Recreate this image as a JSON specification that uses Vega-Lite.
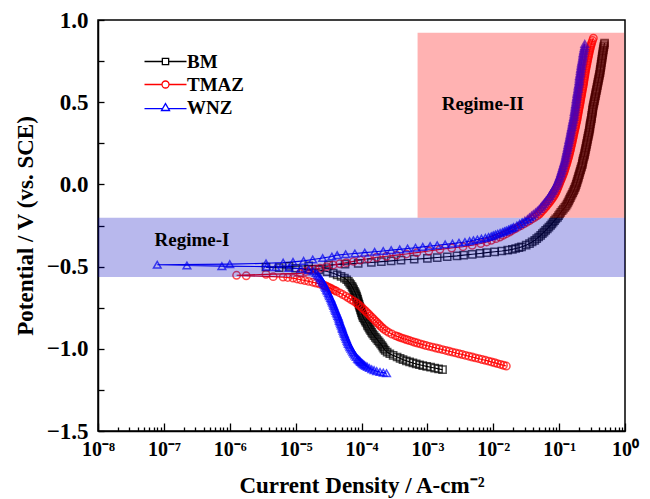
{
"$schema":"https://vega.github.io/schema/vega-lite/v6.json",
"autosize":"none",
"width":527,"height":411,
"padding":{"left":98,"top":20,"right":25,"bottom":68},
"background":"white",
"datasets":{"curves":[
{"s":"BM","J":1.70e-3,"E":-1.127},{"s":"BM","J":1.48e-3,"E":-1.122},{"s":"BM","J":1.29e-3,"E":-1.117},{"s":"BM","J":1.12e-3,"E":-1.112},{"s":"BM","J":9.77e-4,"E":-1.107},{"s":"BM","J":8.51e-4,"E":-1.102},{"s":"BM","J":7.59e-4,"E":-1.097},{"s":"BM","J":6.76e-4,"E":-1.092},{"s":"BM","J":6.03e-4,"E":-1.086},{"s":"BM","J":5.37e-4,"E":-1.080},{"s":"BM","J":4.79e-4,"E":-1.073},{"s":"BM","J":4.27e-4,"E":-1.066},{"s":"BM","J":3.85e-4,"E":-1.058},{"s":"BM","J":3.47e-4,"E":-1.050},{"s":"BM","J":3.02e-4,"E":-1.040},{"s":"BM","J":2.69e-4,"E":-1.030},{"s":"BM","J":2.45e-4,"E":-1.020},{"s":"BM","J":2.29e-4,"E":-1.010},{"s":"BM","J":2.19e-4,"E":-1.000},{"s":"BM","J":2.11e-4,"E":-0.990},{"s":"BM","J":2.04e-4,"E":-0.980},{"s":"BM","J":1.95e-4,"E":-0.970},{"s":"BM","J":1.86e-4,"E":-0.960},{"s":"BM","J":1.78e-4,"E":-0.950},{"s":"BM","J":1.70e-4,"E":-0.940},{"s":"BM","J":1.62e-4,"E":-0.930},{"s":"BM","J":1.55e-4,"E":-0.920},{"s":"BM","J":1.48e-4,"E":-0.910},{"s":"BM","J":1.43e-4,"E":-0.900},{"s":"BM","J":1.38e-4,"E":-0.890},{"s":"BM","J":1.33e-4,"E":-0.880},{"s":"BM","J":1.29e-4,"E":-0.870},{"s":"BM","J":1.24e-4,"E":-0.860},{"s":"BM","J":1.22e-4,"E":-0.850},{"s":"BM","J":1.17e-4,"E":-0.840},{"s":"BM","J":1.14e-4,"E":-0.830},{"s":"BM","J":1.10e-4,"E":-0.820},{"s":"BM","J":1.06e-4,"E":-0.810},{"s":"BM","J":1.04e-4,"E":-0.800},{"s":"BM","J":1.02e-4,"E":-0.790},{"s":"BM","J":1.00e-4,"E":-0.780},{"s":"BM","J":9.83e-5,"E":-0.770},{"s":"BM","J":9.66e-5,"E":-0.760},{"s":"BM","J":9.50e-5,"E":-0.750},{"s":"BM","J":9.33e-5,"E":-0.740},{"s":"BM","J":9.17e-5,"E":-0.730},{"s":"BM","J":9.02e-5,"E":-0.720},{"s":"BM","J":8.86e-5,"E":-0.710},{"s":"BM","J":8.71e-5,"E":-0.700},{"s":"BM","J":8.56e-5,"E":-0.690},{"s":"BM","J":8.41e-5,"E":-0.680},{"s":"BM","J":8.22e-5,"E":-0.670},{"s":"BM","J":8.04e-5,"E":-0.660},{"s":"BM","J":7.81e-5,"E":-0.650},{"s":"BM","J":7.59e-5,"E":-0.640},{"s":"BM","J":7.37e-5,"E":-0.630},{"s":"BM","J":7.16e-5,"E":-0.620},{"s":"BM","J":6.88e-5,"E":-0.610},{"s":"BM","J":6.61e-5,"E":-0.600},{"s":"BM","J":6.31e-5,"E":-0.590},{"s":"BM","J":5.96e-5,"E":-0.580},{"s":"BM","J":5.50e-5,"E":-0.570},{"s":"BM","J":4.90e-5,"E":-0.560},{"s":"BM","J":4.27e-5,"E":-0.550},{"s":"BM","J":3.72e-5,"E":-0.540},{"s":"BM","J":3.02e-5,"E":-0.530},{"s":"BM","J":2.24e-5,"E":-0.520},{"s":"BM","J":1.58e-5,"E":-0.515},{"s":"BM","J":1.00e-5,"E":-0.510},{"s":"BM","J":5.62e-6,"E":-0.506},{"s":"BM","J":3.55e-6,"E":-0.503},{"s":"BM","J":7.94e-6,"E":-0.499},{"s":"BM","J":1.58e-5,"E":-0.495},{"s":"BM","J":3.16e-5,"E":-0.490},{"s":"BM","J":5.62e-5,"E":-0.485},{"s":"BM","J":8.91e-5,"E":-0.480},{"s":"BM","J":1.41e-4,"E":-0.475},{"s":"BM","J":2.00e-4,"E":-0.470},{"s":"BM","J":2.82e-4,"E":-0.465},{"s":"BM","J":3.98e-4,"E":-0.460},{"s":"BM","J":6.31e-4,"E":-0.455},{"s":"BM","J":1.00e-3,"E":-0.450},{"s":"BM","J":1.41e-3,"E":-0.445},{"s":"BM","J":2.00e-3,"E":-0.440},{"s":"BM","J":2.82e-3,"E":-0.435},{"s":"BM","J":3.55e-3,"E":-0.430},{"s":"BM","J":4.79e-3,"E":-0.425},{"s":"BM","J":6.31e-3,"E":-0.420},{"s":"BM","J":7.94e-3,"E":-0.415},{"s":"BM","J":1.05e-2,"E":-0.410},{"s":"BM","J":1.35e-2,"E":-0.405},{"s":"BM","J":1.66e-2,"E":-0.400},{"s":"BM","J":1.95e-2,"E":-0.395},{"s":"BM","J":2.19e-2,"E":-0.390},{"s":"BM","J":2.45e-2,"E":-0.385},{"s":"BM","J":2.69e-2,"E":-0.380},{"s":"BM","J":3.16e-2,"E":-0.370},{"s":"BM","J":3.55e-2,"E":-0.360},{"s":"BM","J":3.89e-2,"E":-0.350},{"s":"BM","J":4.27e-2,"E":-0.340},{"s":"BM","J":4.57e-2,"E":-0.330},{"s":"BM","J":4.90e-2,"E":-0.320},{"s":"BM","J":5.25e-2,"E":-0.310},{"s":"BM","J":5.56e-2,"E":-0.300},{"s":"BM","J":5.89e-2,"E":-0.290},{"s":"BM","J":6.24e-2,"E":-0.280},{"s":"BM","J":6.61e-2,"E":-0.270},{"s":"BM","J":7.00e-2,"E":-0.260},{"s":"BM","J":7.41e-2,"E":-0.250},{"s":"BM","J":7.76e-2,"E":-0.240},{"s":"BM","J":8.13e-2,"E":-0.230},{"s":"BM","J":8.51e-2,"E":-0.220},{"s":"BM","J":8.91e-2,"E":-0.210},{"s":"BM","J":9.44e-2,"E":-0.200},{"s":"BM","J":9.80e-2,"E":-0.190},{"s":"BM","J":1.02e-1,"E":-0.180},{"s":"BM","J":1.06e-1,"E":-0.170},{"s":"BM","J":1.11e-1,"E":-0.160},{"s":"BM","J":1.16e-1,"E":-0.150},{"s":"BM","J":1.22e-1,"E":-0.140},{"s":"BM","J":1.27e-1,"E":-0.130},{"s":"BM","J":1.32e-1,"E":-0.120},{"s":"BM","J":1.36e-1,"E":-0.110},{"s":"BM","J":1.40e-1,"E":-0.100},{"s":"BM","J":1.44e-1,"E":-0.090},{"s":"BM","J":1.48e-1,"E":-0.080},{"s":"BM","J":1.52e-1,"E":-0.070},{"s":"BM","J":1.57e-1,"E":-0.060},{"s":"BM","J":1.61e-1,"E":-0.050},{"s":"BM","J":1.66e-1,"E":-0.040},{"s":"BM","J":1.70e-1,"E":-0.030},{"s":"BM","J":1.74e-1,"E":-0.020},{"s":"BM","J":1.78e-1,"E":-0.010},{"s":"BM","J":1.82e-1,"E":0.00},{"s":"BM","J":1.85e-1,"E":0.01},{"s":"BM","J":1.88e-1,"E":0.02},{"s":"BM","J":1.92e-1,"E":0.03},{"s":"BM","J":1.95e-1,"E":0.04},{"s":"BM","J":1.98e-1,"E":0.05},{"s":"BM","J":2.02e-1,"E":0.06},{"s":"BM","J":2.05e-1,"E":0.07},{"s":"BM","J":2.09e-1,"E":0.08},{"s":"BM","J":2.12e-1,"E":0.09},{"s":"BM","J":2.16e-1,"E":0.10},{"s":"BM","J":2.20e-1,"E":0.11},{"s":"BM","J":2.24e-1,"E":0.12},{"s":"BM","J":2.26e-1,"E":0.13},{"s":"BM","J":2.29e-1,"E":0.14},{"s":"BM","J":2.31e-1,"E":0.15},{"s":"BM","J":2.34e-1,"E":0.16},{"s":"BM","J":2.39e-1,"E":0.17},{"s":"BM","J":2.43e-1,"E":0.18},{"s":"BM","J":2.45e-1,"E":0.19},{"s":"BM","J":2.48e-1,"E":0.20},{"s":"BM","J":2.51e-1,"E":0.21},{"s":"BM","J":2.54e-1,"E":0.22},{"s":"BM","J":2.57e-1,"E":0.23},{"s":"BM","J":2.60e-1,"E":0.24},{"s":"BM","J":2.63e-1,"E":0.25},{"s":"BM","J":2.66e-1,"E":0.26},{"s":"BM","J":2.69e-1,"E":0.27},{"s":"BM","J":2.72e-1,"E":0.28},{"s":"BM","J":2.75e-1,"E":0.29},{"s":"BM","J":2.79e-1,"E":0.30},{"s":"BM","J":2.82e-1,"E":0.31},{"s":"BM","J":2.85e-1,"E":0.32},{"s":"BM","J":2.88e-1,"E":0.33},{"s":"BM","J":2.92e-1,"E":0.34},{"s":"BM","J":2.93e-1,"E":0.35},{"s":"BM","J":2.95e-1,"E":0.36},{"s":"BM","J":2.98e-1,"E":0.37},{"s":"BM","J":3.02e-1,"E":0.38},{"s":"BM","J":3.05e-1,"E":0.39},{"s":"BM","J":3.09e-1,"E":0.40},{"s":"BM","J":3.11e-1,"E":0.41},{"s":"BM","J":3.13e-1,"E":0.42},{"s":"BM","J":3.16e-1,"E":0.43},{"s":"BM","J":3.20e-1,"E":0.44},{"s":"BM","J":3.22e-1,"E":0.45},{"s":"BM","J":3.24e-1,"E":0.46},{"s":"BM","J":3.27e-1,"E":0.47},{"s":"BM","J":3.31e-1,"E":0.48},{"s":"BM","J":3.35e-1,"E":0.49},{"s":"BM","J":3.39e-1,"E":0.50},{"s":"BM","J":3.43e-1,"E":0.51},{"s":"BM","J":3.47e-1,"E":0.52},{"s":"BM","J":3.51e-1,"E":0.53},{"s":"BM","J":3.55e-1,"E":0.54},{"s":"BM","J":3.59e-1,"E":0.55},{"s":"BM","J":3.63e-1,"E":0.56},{"s":"BM","J":3.67e-1,"E":0.57},{"s":"BM","J":3.72e-1,"E":0.58},{"s":"BM","J":3.76e-1,"E":0.59},{"s":"BM","J":3.80e-1,"E":0.60},{"s":"BM","J":3.84e-1,"E":0.61},{"s":"BM","J":3.89e-1,"E":0.62},{"s":"BM","J":3.93e-1,"E":0.63},{"s":"BM","J":3.98e-1,"E":0.64},{"s":"BM","J":4.02e-1,"E":0.65},{"s":"BM","J":4.07e-1,"E":0.66},{"s":"BM","J":4.12e-1,"E":0.67},{"s":"BM","J":4.17e-1,"E":0.68},{"s":"BM","J":4.19e-1,"E":0.69},{"s":"BM","J":4.22e-1,"E":0.70},{"s":"BM","J":4.27e-1,"E":0.71},{"s":"BM","J":4.32e-1,"E":0.72},{"s":"BM","J":4.34e-1,"E":0.73},{"s":"BM","J":4.37e-1,"E":0.74},{"s":"BM","J":4.42e-1,"E":0.75},{"s":"BM","J":4.47e-1,"E":0.76},{"s":"BM","J":4.49e-1,"E":0.77},{"s":"BM","J":4.52e-1,"E":0.78},{"s":"BM","J":4.57e-1,"E":0.79},{"s":"BM","J":4.62e-1,"E":0.80},{"s":"BM","J":4.65e-1,"E":0.81},{"s":"BM","J":4.68e-1,"E":0.82},{"s":"BM","J":4.73e-1,"E":0.83},{"s":"BM","J":4.79e-1,"E":0.84},{"s":"BM","J":4.84e-1,"E":0.85},{"s":"BM","J":4.90e-1,"E":0.86},
{"s":"TMAZ","J":1.58e-2,"E":-1.105},{"s":"TMAZ","J":1.43e-2,"E":-1.100},{"s":"TMAZ","J":1.29e-2,"E":-1.095},{"s":"TMAZ","J":1.16e-2,"E":-1.090},{"s":"TMAZ","J":1.05e-2,"E":-1.085},{"s":"TMAZ","J":9.44e-3,"E":-1.080},{"s":"TMAZ","J":8.51e-3,"E":-1.075},{"s":"TMAZ","J":7.59e-3,"E":-1.070},{"s":"TMAZ","J":6.76e-3,"E":-1.065},{"s":"TMAZ","J":6.03e-3,"E":-1.060},{"s":"TMAZ","J":5.37e-3,"E":-1.055},{"s":"TMAZ","J":4.79e-3,"E":-1.050},{"s":"TMAZ","J":4.27e-3,"E":-1.045},{"s":"TMAZ","J":3.80e-3,"E":-1.040},{"s":"TMAZ","J":3.39e-3,"E":-1.035},{"s":"TMAZ","J":3.02e-3,"E":-1.030},{"s":"TMAZ","J":2.69e-3,"E":-1.025},{"s":"TMAZ","J":2.40e-3,"E":-1.020},{"s":"TMAZ","J":2.14e-3,"E":-1.015},{"s":"TMAZ","J":1.91e-3,"E":-1.010},{"s":"TMAZ","J":1.70e-3,"E":-1.005},{"s":"TMAZ","J":1.51e-3,"E":-1.000},{"s":"TMAZ","J":1.35e-3,"E":-0.995},{"s":"TMAZ","J":1.20e-3,"E":-0.990},{"s":"TMAZ","J":1.07e-3,"E":-0.985},{"s":"TMAZ","J":9.55e-4,"E":-0.980},{"s":"TMAZ","J":8.60e-4,"E":-0.975},{"s":"TMAZ","J":7.80e-4,"E":-0.970},{"s":"TMAZ","J":7.05e-4,"E":-0.965},{"s":"TMAZ","J":6.40e-4,"E":-0.960},{"s":"TMAZ","J":5.85e-4,"E":-0.955},{"s":"TMAZ","J":5.35e-4,"E":-0.950},{"s":"TMAZ","J":4.90e-4,"E":-0.945},{"s":"TMAZ","J":4.50e-4,"E":-0.940},{"s":"TMAZ","J":4.13e-4,"E":-0.935},{"s":"TMAZ","J":3.80e-4,"E":-0.930},{"s":"TMAZ","J":3.52e-4,"E":-0.925},{"s":"TMAZ","J":3.27e-4,"E":-0.920},{"s":"TMAZ","J":2.88e-4,"E":-0.910},{"s":"TMAZ","J":2.58e-4,"E":-0.900},{"s":"TMAZ","J":2.36e-4,"E":-0.890},{"s":"TMAZ","J":2.18e-4,"E":-0.880},{"s":"TMAZ","J":2.04e-4,"E":-0.870},{"s":"TMAZ","J":1.93e-4,"E":-0.860},{"s":"TMAZ","J":1.82e-4,"E":-0.850},{"s":"TMAZ","J":1.72e-4,"E":-0.840},{"s":"TMAZ","J":1.62e-4,"E":-0.830},{"s":"TMAZ","J":1.53e-4,"E":-0.820},{"s":"TMAZ","J":1.45e-4,"E":-0.810},{"s":"TMAZ","J":1.36e-4,"E":-0.800},{"s":"TMAZ","J":1.29e-4,"E":-0.790},{"s":"TMAZ","J":1.22e-4,"E":-0.780},{"s":"TMAZ","J":1.15e-4,"E":-0.770},{"s":"TMAZ","J":1.08e-4,"E":-0.760},{"s":"TMAZ","J":1.02e-4,"E":-0.750},{"s":"TMAZ","J":9.55e-5,"E":-0.740},{"s":"TMAZ","J":8.91e-5,"E":-0.730},{"s":"TMAZ","J":8.32e-5,"E":-0.720},{"s":"TMAZ","J":7.59e-5,"E":-0.710},{"s":"TMAZ","J":6.92e-5,"E":-0.700},{"s":"TMAZ","J":6.31e-5,"E":-0.690},{"s":"TMAZ","J":5.75e-5,"E":-0.680},{"s":"TMAZ","J":5.19e-5,"E":-0.670},{"s":"TMAZ","J":4.68e-5,"E":-0.660},{"s":"TMAZ","J":4.17e-5,"E":-0.650},{"s":"TMAZ","J":3.94e-5,"E":-0.645},{"s":"TMAZ","J":3.72e-5,"E":-0.640},{"s":"TMAZ","J":3.51e-5,"E":-0.635},{"s":"TMAZ","J":3.31e-5,"E":-0.630},{"s":"TMAZ","J":3.13e-5,"E":-0.625},{"s":"TMAZ","J":2.95e-5,"E":-0.620},{"s":"TMAZ","J":2.75e-5,"E":-0.615},{"s":"TMAZ","J":2.57e-5,"E":-0.610},{"s":"TMAZ","J":2.29e-5,"E":-0.605},{"s":"TMAZ","J":2.04e-5,"E":-0.600},{"s":"TMAZ","J":1.82e-5,"E":-0.595},{"s":"TMAZ","J":1.58e-5,"E":-0.590},{"s":"TMAZ","J":1.38e-5,"E":-0.585},{"s":"TMAZ","J":1.20e-5,"E":-0.580},{"s":"TMAZ","J":1.05e-5,"E":-0.575},{"s":"TMAZ","J":9.12e-6,"E":-0.570},{"s":"TMAZ","J":7.59e-6,"E":-0.566},{"s":"TMAZ","J":6.46e-6,"E":-0.564},{"s":"TMAZ","J":4.57e-6,"E":-0.561},{"s":"TMAZ","J":1.78e-6,"E":-0.556},{"s":"TMAZ","J":1.27e-6,"E":-0.553},{"s":"TMAZ","J":3.55e-6,"E":-0.547},{"s":"TMAZ","J":1.17e-5,"E":-0.541},{"s":"TMAZ","J":1.41e-5,"E":-0.530},{"s":"TMAZ","J":1.66e-5,"E":-0.521},{"s":"TMAZ","J":2.00e-5,"E":-0.515},{"s":"TMAZ","J":2.34e-5,"E":-0.510},{"s":"TMAZ","J":2.95e-5,"E":-0.500},{"s":"TMAZ","J":3.72e-5,"E":-0.490},{"s":"TMAZ","J":4.68e-5,"E":-0.483},{"s":"TMAZ","J":5.89e-5,"E":-0.476},{"s":"TMAZ","J":7.59e-5,"E":-0.468},{"s":"TMAZ","J":9.55e-5,"E":-0.460},{"s":"TMAZ","J":1.26e-4,"E":-0.452},{"s":"TMAZ","J":1.70e-4,"E":-0.443},{"s":"TMAZ","J":2.40e-4,"E":-0.437},{"s":"TMAZ","J":3.39e-4,"E":-0.430},{"s":"TMAZ","J":4.79e-4,"E":-0.423},{"s":"TMAZ","J":6.92e-4,"E":-0.415},{"s":"TMAZ","J":1.05e-3,"E":-0.405},{"s":"TMAZ","J":1.55e-3,"E":-0.395},{"s":"TMAZ","J":2.34e-3,"E":-0.387},{"s":"TMAZ","J":3.47e-3,"E":-0.379},{"s":"TMAZ","J":4.79e-3,"E":-0.370},{"s":"TMAZ","J":6.46e-3,"E":-0.360},{"s":"TMAZ","J":7.94e-3,"E":-0.350},{"s":"TMAZ","J":9.33e-3,"E":-0.340},{"s":"TMAZ","J":1.10e-2,"E":-0.330},{"s":"TMAZ","J":1.26e-2,"E":-0.320},{"s":"TMAZ","J":1.41e-2,"E":-0.310},{"s":"TMAZ","J":1.58e-2,"E":-0.300},{"s":"TMAZ","J":1.76e-2,"E":-0.290},{"s":"TMAZ","J":1.93e-2,"E":-0.280},{"s":"TMAZ","J":2.14e-2,"E":-0.270},{"s":"TMAZ","J":2.37e-2,"E":-0.260},{"s":"TMAZ","J":2.63e-2,"E":-0.250},{"s":"TMAZ","J":2.92e-2,"E":-0.240},{"s":"TMAZ","J":3.24e-2,"E":-0.230},{"s":"TMAZ","J":3.55e-2,"E":-0.220},{"s":"TMAZ","J":3.89e-2,"E":-0.210},{"s":"TMAZ","J":4.27e-2,"E":-0.200},{"s":"TMAZ","J":4.68e-2,"E":-0.190},{"s":"TMAZ","J":5.01e-2,"E":-0.180},{"s":"TMAZ","J":5.28e-2,"E":-0.170},{"s":"TMAZ","J":5.56e-2,"E":-0.160},{"s":"TMAZ","J":5.86e-2,"E":-0.150},{"s":"TMAZ","J":6.17e-2,"E":-0.140},{"s":"TMAZ","J":6.46e-2,"E":-0.130},{"s":"TMAZ","J":6.76e-2,"E":-0.120},{"s":"TMAZ","J":7.08e-2,"E":-0.110},{"s":"TMAZ","J":7.41e-2,"E":-0.100},{"s":"TMAZ","J":7.72e-2,"E":-0.090},{"s":"TMAZ","J":8.04e-2,"E":-0.080},{"s":"TMAZ","J":8.32e-2,"E":-0.070},{"s":"TMAZ","J":8.61e-2,"E":-0.060},{"s":"TMAZ","J":8.87e-2,"E":-0.050},{"s":"TMAZ","J":9.12e-2,"E":-0.040},{"s":"TMAZ","J":9.33e-2,"E":-0.030},{"s":"TMAZ","J":9.55e-2,"E":-0.020},{"s":"TMAZ","J":9.77e-2,"E":-0.010},{"s":"TMAZ","J":1.00e-1,"E":0.00},{"s":"TMAZ","J":1.02e-1,"E":0.01},{"s":"TMAZ","J":1.05e-1,"E":0.02},{"s":"TMAZ","J":1.07e-1,"E":0.03},{"s":"TMAZ","J":1.10e-1,"E":0.04},{"s":"TMAZ","J":1.12e-1,"E":0.05},{"s":"TMAZ","J":1.15e-1,"E":0.06},{"s":"TMAZ","J":1.17e-1,"E":0.07},{"s":"TMAZ","J":1.20e-1,"E":0.08},{"s":"TMAZ","J":1.22e-1,"E":0.09},{"s":"TMAZ","J":1.24e-1,"E":0.10},{"s":"TMAZ","J":1.26e-1,"E":0.11},{"s":"TMAZ","J":1.29e-1,"E":0.12},{"s":"TMAZ","J":1.31e-1,"E":0.13},{"s":"TMAZ","J":1.33e-1,"E":0.14},{"s":"TMAZ","J":1.35e-1,"E":0.15},{"s":"TMAZ","J":1.38e-1,"E":0.16},{"s":"TMAZ","J":1.40e-1,"E":0.17},{"s":"TMAZ","J":1.42e-1,"E":0.18},{"s":"TMAZ","J":1.44e-1,"E":0.19},{"s":"TMAZ","J":1.46e-1,"E":0.20},{"s":"TMAZ","J":1.48e-1,"E":0.21},{"s":"TMAZ","J":1.50e-1,"E":0.22},{"s":"TMAZ","J":1.52e-1,"E":0.23},{"s":"TMAZ","J":1.54e-1,"E":0.24},{"s":"TMAZ","J":1.56e-1,"E":0.25},{"s":"TMAZ","J":1.58e-1,"E":0.26},{"s":"TMAZ","J":1.60e-1,"E":0.27},{"s":"TMAZ","J":1.62e-1,"E":0.28},{"s":"TMAZ","J":1.64e-1,"E":0.29},{"s":"TMAZ","J":1.66e-1,"E":0.30},{"s":"TMAZ","J":1.68e-1,"E":0.31},{"s":"TMAZ","J":1.70e-1,"E":0.32},{"s":"TMAZ","J":1.72e-1,"E":0.33},{"s":"TMAZ","J":1.75e-1,"E":0.34},{"s":"TMAZ","J":1.77e-1,"E":0.35},{"s":"TMAZ","J":1.79e-1,"E":0.36},{"s":"TMAZ","J":1.81e-1,"E":0.37},{"s":"TMAZ","J":1.84e-1,"E":0.38},{"s":"TMAZ","J":1.86e-1,"E":0.39},{"s":"TMAZ","J":1.88e-1,"E":0.40},{"s":"TMAZ","J":1.90e-1,"E":0.41},{"s":"TMAZ","J":1.92e-1,"E":0.42},{"s":"TMAZ","J":1.94e-1,"E":0.43},{"s":"TMAZ","J":1.96e-1,"E":0.44},{"s":"TMAZ","J":1.98e-1,"E":0.45},{"s":"TMAZ","J":2.00e-1,"E":0.46},{"s":"TMAZ","J":2.02e-1,"E":0.47},{"s":"TMAZ","J":2.05e-1,"E":0.48},{"s":"TMAZ","J":2.07e-1,"E":0.49},{"s":"TMAZ","J":2.09e-1,"E":0.50},{"s":"TMAZ","J":2.11e-1,"E":0.51},{"s":"TMAZ","J":2.13e-1,"E":0.52},{"s":"TMAZ","J":2.15e-1,"E":0.53},{"s":"TMAZ","J":2.18e-1,"E":0.54},{"s":"TMAZ","J":2.20e-1,"E":0.55},{"s":"TMAZ","J":2.22e-1,"E":0.56},{"s":"TMAZ","J":2.24e-1,"E":0.57},{"s":"TMAZ","J":2.27e-1,"E":0.58},{"s":"TMAZ","J":2.29e-1,"E":0.59},{"s":"TMAZ","J":2.32e-1,"E":0.60},{"s":"TMAZ","J":2.34e-1,"E":0.61},{"s":"TMAZ","J":2.36e-1,"E":0.62},{"s":"TMAZ","J":2.38e-1,"E":0.63},{"s":"TMAZ","J":2.40e-1,"E":0.64},{"s":"TMAZ","J":2.42e-1,"E":0.65},{"s":"TMAZ","J":2.45e-1,"E":0.66},{"s":"TMAZ","J":2.47e-1,"E":0.67},{"s":"TMAZ","J":2.49e-1,"E":0.68},{"s":"TMAZ","J":2.51e-1,"E":0.69},{"s":"TMAZ","J":2.54e-1,"E":0.70},{"s":"TMAZ","J":2.57e-1,"E":0.71},{"s":"TMAZ","J":2.60e-1,"E":0.72},{"s":"TMAZ","J":2.63e-1,"E":0.73},{"s":"TMAZ","J":2.66e-1,"E":0.74},{"s":"TMAZ","J":2.69e-1,"E":0.75},{"s":"TMAZ","J":2.72e-1,"E":0.76},{"s":"TMAZ","J":2.75e-1,"E":0.77},{"s":"TMAZ","J":2.79e-1,"E":0.78},{"s":"TMAZ","J":2.82e-1,"E":0.79},{"s":"TMAZ","J":2.85e-1,"E":0.80},{"s":"TMAZ","J":2.89e-1,"E":0.81},{"s":"TMAZ","J":2.93e-1,"E":0.82},{"s":"TMAZ","J":2.97e-1,"E":0.83},{"s":"TMAZ","J":3.01e-1,"E":0.84},{"s":"TMAZ","J":3.06e-1,"E":0.85},{"s":"TMAZ","J":3.12e-1,"E":0.86},{"s":"TMAZ","J":3.21e-1,"E":0.875},{"s":"TMAZ","J":3.31e-1,"E":0.89},
{"s":"WNZ","J":2.40e-4,"E":-1.149},{"s":"WNZ","J":2.14e-4,"E":-1.145},{"s":"WNZ","J":1.91e-4,"E":-1.141},{"s":"WNZ","J":1.70e-4,"E":-1.136},{"s":"WNZ","J":1.55e-4,"E":-1.130},{"s":"WNZ","J":1.43e-4,"E":-1.124},{"s":"WNZ","J":1.32e-4,"E":-1.117},{"s":"WNZ","J":1.23e-4,"E":-1.110},{"s":"WNZ","J":1.17e-4,"E":-1.105},{"s":"WNZ","J":1.12e-4,"E":-1.100},{"s":"WNZ","J":1.08e-4,"E":-1.095},{"s":"WNZ","J":1.04e-4,"E":-1.090},{"s":"WNZ","J":1.01e-4,"E":-1.085},{"s":"WNZ","J":9.77e-5,"E":-1.080},{"s":"WNZ","J":9.50e-5,"E":-1.075},{"s":"WNZ","J":9.23e-5,"E":-1.070},{"s":"WNZ","J":8.97e-5,"E":-1.065},{"s":"WNZ","J":8.71e-5,"E":-1.060},{"s":"WNZ","J":8.32e-5,"E":-1.050},{"s":"WNZ","J":7.94e-5,"E":-1.040},{"s":"WNZ","J":7.67e-5,"E":-1.030},{"s":"WNZ","J":7.41e-5,"E":-1.020},{"s":"WNZ","J":7.16e-5,"E":-1.010},{"s":"WNZ","J":6.92e-5,"E":-1.000},{"s":"WNZ","J":6.68e-5,"E":-0.990},{"s":"WNZ","J":6.53e-5,"E":-0.980},{"s":"WNZ","J":6.31e-5,"E":-0.970},{"s":"WNZ","J":6.17e-5,"E":-0.960},{"s":"WNZ","J":6.03e-5,"E":-0.950},{"s":"WNZ","J":5.89e-5,"E":-0.940},{"s":"WNZ","J":5.75e-5,"E":-0.930},{"s":"WNZ","J":5.62e-5,"E":-0.920},{"s":"WNZ","J":5.50e-5,"E":-0.910},{"s":"WNZ","J":5.37e-5,"E":-0.900},{"s":"WNZ","J":5.25e-5,"E":-0.890},{"s":"WNZ","J":5.13e-5,"E":-0.880},{"s":"WNZ","J":5.07e-5,"E":-0.870},{"s":"WNZ","J":4.95e-5,"E":-0.860},{"s":"WNZ","J":4.84e-5,"E":-0.850},{"s":"WNZ","J":4.73e-5,"E":-0.840},{"s":"WNZ","J":4.62e-5,"E":-0.830},{"s":"WNZ","J":4.57e-5,"E":-0.820},{"s":"WNZ","J":4.47e-5,"E":-0.810},{"s":"WNZ","J":4.37e-5,"E":-0.800},{"s":"WNZ","J":4.27e-5,"E":-0.790},{"s":"WNZ","J":4.17e-5,"E":-0.780},{"s":"WNZ","J":4.07e-5,"E":-0.770},{"s":"WNZ","J":3.98e-5,"E":-0.760},{"s":"WNZ","J":3.89e-5,"E":-0.750},{"s":"WNZ","J":3.80e-5,"E":-0.740},{"s":"WNZ","J":3.72e-5,"E":-0.730},{"s":"WNZ","J":3.63e-5,"E":-0.720},{"s":"WNZ","J":3.55e-5,"E":-0.710},{"s":"WNZ","J":3.47e-5,"E":-0.700},{"s":"WNZ","J":3.39e-5,"E":-0.690},{"s":"WNZ","J":3.27e-5,"E":-0.680},{"s":"WNZ","J":3.20e-5,"E":-0.670},{"s":"WNZ","J":3.13e-5,"E":-0.660},{"s":"WNZ","J":3.02e-5,"E":-0.650},{"s":"WNZ","J":2.95e-5,"E":-0.640},{"s":"WNZ","J":2.88e-5,"E":-0.630},{"s":"WNZ","J":2.79e-5,"E":-0.620},{"s":"WNZ","J":2.72e-5,"E":-0.610},{"s":"WNZ","J":2.63e-5,"E":-0.600},{"s":"WNZ","J":2.54e-5,"E":-0.590},{"s":"WNZ","J":2.45e-5,"E":-0.580},{"s":"WNZ","J":2.37e-5,"E":-0.570},{"s":"WNZ","J":2.26e-5,"E":-0.560},{"s":"WNZ","J":2.16e-5,"E":-0.550},{"s":"WNZ","J":2.04e-5,"E":-0.540},{"s":"WNZ","J":1.84e-5,"E":-0.530},{"s":"WNZ","J":1.58e-5,"E":-0.520},{"s":"WNZ","J":1.20e-5,"E":-0.513},{"s":"WNZ","J":7.94e-6,"E":-0.508},{"s":"WNZ","J":5.01e-6,"E":-0.504},{"s":"WNZ","J":3.63e-6,"E":-0.500},{"s":"WNZ","J":7.59e-7,"E":-0.497},{"s":"WNZ","J":2.24e-7,"E":-0.493},{"s":"WNZ","J":7.94e-8,"E":-0.489},{"s":"WNZ","J":1.00e-6,"E":-0.485},{"s":"WNZ","J":3.55e-6,"E":-0.480},{"s":"WNZ","J":6.46e-6,"E":-0.476},{"s":"WNZ","J":9.12e-6,"E":-0.471},{"s":"WNZ","J":1.32e-5,"E":-0.465},{"s":"WNZ","J":1.82e-5,"E":-0.457},{"s":"WNZ","J":2.57e-5,"E":-0.448},{"s":"WNZ","J":3.55e-5,"E":-0.439},{"s":"WNZ","J":4.27e-5,"E":-0.430},{"s":"WNZ","J":5.75e-5,"E":-0.425},{"s":"WNZ","J":7.94e-5,"E":-0.420},{"s":"WNZ","J":1.12e-4,"E":-0.415},{"s":"WNZ","J":1.58e-4,"E":-0.410},{"s":"WNZ","J":2.14e-4,"E":-0.405},{"s":"WNZ","J":2.82e-4,"E":-0.400},{"s":"WNZ","J":3.80e-4,"E":-0.395},{"s":"WNZ","J":5.01e-4,"E":-0.390},{"s":"WNZ","J":6.61e-4,"E":-0.385},{"s":"WNZ","J":8.51e-4,"E":-0.380},{"s":"WNZ","J":1.10e-3,"E":-0.375},{"s":"WNZ","J":1.41e-3,"E":-0.370},{"s":"WNZ","J":1.86e-3,"E":-0.365},{"s":"WNZ","J":2.40e-3,"E":-0.360},{"s":"WNZ","J":3.02e-3,"E":-0.355},{"s":"WNZ","J":3.72e-3,"E":-0.350},{"s":"WNZ","J":4.37e-3,"E":-0.345},{"s":"WNZ","J":5.01e-3,"E":-0.340},{"s":"WNZ","J":5.75e-3,"E":-0.335},{"s":"WNZ","J":6.61e-3,"E":-0.330},{"s":"WNZ","J":7.59e-3,"E":-0.325},{"s":"WNZ","J":8.51e-3,"E":-0.320},{"s":"WNZ","J":9.33e-3,"E":-0.315},{"s":"WNZ","J":1.00e-2,"E":-0.310},{"s":"WNZ","J":1.08e-2,"E":-0.305},{"s":"WNZ","J":1.17e-2,"E":-0.300},{"s":"WNZ","J":1.27e-2,"E":-0.295},{"s":"WNZ","J":1.38e-2,"E":-0.290},{"s":"WNZ","J":1.48e-2,"E":-0.285},{"s":"WNZ","J":1.58e-2,"E":-0.280},{"s":"WNZ","J":1.70e-2,"E":-0.275},{"s":"WNZ","J":1.82e-2,"E":-0.270},{"s":"WNZ","J":1.93e-2,"E":-0.265},{"s":"WNZ","J":2.04e-2,"E":-0.260},{"s":"WNZ","J":2.29e-2,"E":-0.250},{"s":"WNZ","J":2.51e-2,"E":-0.240},{"s":"WNZ","J":2.75e-2,"E":-0.230},{"s":"WNZ","J":3.02e-2,"E":-0.220},{"s":"WNZ","J":3.31e-2,"E":-0.210},{"s":"WNZ","J":3.55e-2,"E":-0.200},{"s":"WNZ","J":3.80e-2,"E":-0.190},{"s":"WNZ","J":4.07e-2,"E":-0.180},{"s":"WNZ","J":4.37e-2,"E":-0.170},{"s":"WNZ","J":4.68e-2,"E":-0.160},{"s":"WNZ","J":4.97e-2,"E":-0.150},{"s":"WNZ","J":5.25e-2,"E":-0.140},{"s":"WNZ","J":5.50e-2,"E":-0.130},{"s":"WNZ","J":5.75e-2,"E":-0.120},{"s":"WNZ","J":6.03e-2,"E":-0.110},{"s":"WNZ","J":6.31e-2,"E":-0.100},{"s":"WNZ","J":6.61e-2,"E":-0.090},{"s":"WNZ","J":6.92e-2,"E":-0.080},{"s":"WNZ","J":7.16e-2,"E":-0.070},{"s":"WNZ","J":7.41e-2,"E":-0.060},{"s":"WNZ","J":7.67e-2,"E":-0.050},{"s":"WNZ","J":7.94e-2,"E":-0.040},{"s":"WNZ","J":8.22e-2,"E":-0.030},{"s":"WNZ","J":8.51e-2,"E":-0.020},{"s":"WNZ","J":8.81e-2,"E":-0.010},{"s":"WNZ","J":9.12e-2,"E":0.00},{"s":"WNZ","J":9.33e-2,"E":0.01},{"s":"WNZ","J":9.55e-2,"E":0.02},{"s":"WNZ","J":9.77e-2,"E":0.03},{"s":"WNZ","J":1.00e-1,"E":0.04},{"s":"WNZ","J":1.02e-1,"E":0.05},{"s":"WNZ","J":1.05e-1,"E":0.06},{"s":"WNZ","J":1.06e-1,"E":0.07},{"s":"WNZ","J":1.08e-1,"E":0.08},{"s":"WNZ","J":1.10e-1,"E":0.09},{"s":"WNZ","J":1.12e-1,"E":0.10},{"s":"WNZ","J":1.14e-1,"E":0.11},{"s":"WNZ","J":1.16e-1,"E":0.12},{"s":"WNZ","J":1.18e-1,"E":0.13},{"s":"WNZ","J":1.20e-1,"E":0.14},{"s":"WNZ","J":1.22e-1,"E":0.15},{"s":"WNZ","J":1.24e-1,"E":0.16},{"s":"WNZ","J":1.25e-1,"E":0.17},{"s":"WNZ","J":1.27e-1,"E":0.18},{"s":"WNZ","J":1.28e-1,"E":0.19},{"s":"WNZ","J":1.30e-1,"E":0.20},{"s":"WNZ","J":1.32e-1,"E":0.21},{"s":"WNZ","J":1.33e-1,"E":0.22},{"s":"WNZ","J":1.35e-1,"E":0.23},{"s":"WNZ","J":1.36e-1,"E":0.24},{"s":"WNZ","J":1.38e-1,"E":0.25},{"s":"WNZ","J":1.40e-1,"E":0.26},{"s":"WNZ","J":1.41e-1,"E":0.27},{"s":"WNZ","J":1.43e-1,"E":0.28},{"s":"WNZ","J":1.45e-1,"E":0.29},{"s":"WNZ","J":1.46e-1,"E":0.30},{"s":"WNZ","J":1.48e-1,"E":0.31},{"s":"WNZ","J":1.50e-1,"E":0.32},{"s":"WNZ","J":1.51e-1,"E":0.33},{"s":"WNZ","J":1.53e-1,"E":0.34},{"s":"WNZ","J":1.55e-1,"E":0.35},{"s":"WNZ","J":1.57e-1,"E":0.36},{"s":"WNZ","J":1.58e-1,"E":0.37},{"s":"WNZ","J":1.60e-1,"E":0.38},{"s":"WNZ","J":1.62e-1,"E":0.39},{"s":"WNZ","J":1.64e-1,"E":0.40},{"s":"WNZ","J":1.66e-1,"E":0.41},{"s":"WNZ","J":1.68e-1,"E":0.42},{"s":"WNZ","J":1.69e-1,"E":0.43},{"s":"WNZ","J":1.70e-1,"E":0.44},{"s":"WNZ","J":1.72e-1,"E":0.45},{"s":"WNZ","J":1.74e-1,"E":0.46},{"s":"WNZ","J":1.75e-1,"E":0.47},{"s":"WNZ","J":1.76e-1,"E":0.48},{"s":"WNZ","J":1.78e-1,"E":0.49},{"s":"WNZ","J":1.80e-1,"E":0.50},{"s":"WNZ","J":1.81e-1,"E":0.51},{"s":"WNZ","J":1.82e-1,"E":0.52},{"s":"WNZ","J":1.84e-1,"E":0.53},{"s":"WNZ","J":1.86e-1,"E":0.54},{"s":"WNZ","J":1.87e-1,"E":0.55},{"s":"WNZ","J":1.88e-1,"E":0.56},{"s":"WNZ","J":1.91e-1,"E":0.57},{"s":"WNZ","J":1.93e-1,"E":0.58},{"s":"WNZ","J":1.94e-1,"E":0.59},{"s":"WNZ","J":1.95e-1,"E":0.60},{"s":"WNZ","J":1.98e-1,"E":0.61},{"s":"WNZ","J":2.00e-1,"E":0.62},{"s":"WNZ","J":2.01e-1,"E":0.63},{"s":"WNZ","J":2.02e-1,"E":0.64},{"s":"WNZ","J":2.03e-1,"E":0.65},{"s":"WNZ","J":2.04e-1,"E":0.66},{"s":"WNZ","J":2.07e-1,"E":0.67},{"s":"WNZ","J":2.09e-1,"E":0.68},{"s":"WNZ","J":2.10e-1,"E":0.69},{"s":"WNZ","J":2.11e-1,"E":0.70},{"s":"WNZ","J":2.14e-1,"E":0.71},{"s":"WNZ","J":2.16e-1,"E":0.72},{"s":"WNZ","J":2.17e-1,"E":0.73},{"s":"WNZ","J":2.19e-1,"E":0.74},{"s":"WNZ","J":2.22e-1,"E":0.75},{"s":"WNZ","J":2.24e-1,"E":0.76},{"s":"WNZ","J":2.27e-1,"E":0.77},{"s":"WNZ","J":2.29e-1,"E":0.78},{"s":"WNZ","J":2.30e-1,"E":0.79},{"s":"WNZ","J":2.32e-1,"E":0.80},{"s":"WNZ","J":2.35e-1,"E":0.81},{"s":"WNZ","J":2.37e-1,"E":0.82},{"s":"WNZ","J":2.40e-1,"E":0.83},{"s":"WNZ","J":2.43e-1,"E":0.84},{"s":"WNZ","J":2.45e-1,"E":0.855}
]},
"layer":[
{"data":{"name":"curves"},
 "mark":{"type":"line","strokeWidth":1.1},
 "encoding":{
  "x":{"field":"J","type":"quantitative","scale":{"type":"log","domain":[1e-8,1],"nice":false},
   "axis":{"orient":"bottom","values":[1e-8,1e-7,1e-6,1e-5,1e-4,1e-3,1e-2,1e-1,1],
    "labelExpr":"'10' + (round(log(datum.value)/LN10) == 0 ? '⁰' : '⁻' + ['⁰','¹','²','³','⁴','⁵','⁶','⁷','⁸','⁹'][-round(log(datum.value)/LN10)])",
    "tickSize":-8,"labelPadding":16,"labelFontSize":20,"labelFlush":false,"labelOverlap":false,
    "title":"Current Density / A-cm⁻²","titleFontSize":23,"titlePadding":15}},
  "y":{"field":"E","type":"quantitative","scale":{"domain":[-1.5,1.0],"nice":false,"zero":false},
   "axis":{"orient":"left","values":[-1.5,-1.25,-1,-0.75,-0.5,-0.25,0,0.25,0.5,0.75,1],
    "labelExpr":"abs(datum.value*2 - round(datum.value*2)) < 0.01 ? format(datum.value, '.1f') : ''",
    "tickSize":-6,"labelPadding":16,"labelFontSize":23,"labelOverlap":false,
    "title":"Potential / V (vs. SCE)","titleFontSize":23,"titlePadding":9}},
  "color":{"field":"s","type":"nominal","scale":{"domain":["BM","TMAZ","WNZ"],"range":["#000000","#ff0000","#0000ff"]},"legend":null},
  "order":{"field":"E","type":"quantitative"}
 }},
{"data":{"name":"curves"},
 "mark":{"type":"point","filled":false,"strokeWidth":1.5},
 "encoding":{
  "x":{"field":"J","type":"quantitative","scale":{"type":"log","domain":[1e-8,1],"nice":false},"axis":null},
  "y":{"field":"E","type":"quantitative","scale":{"domain":[-1.5,1.0],"nice":false,"zero":false},"axis":null},
  "color":{"field":"s","type":"nominal","scale":{"domain":["BM","TMAZ","WNZ"],"range":["#000000","#ff0000","#0000ff"]},"legend":null},
  "shape":{"field":"s","type":"nominal","scale":{"domain":["BM","TMAZ","WNZ"],"range":["square","circle","triangle-up"]},"legend":null},
  "size":{"field":"s","type":"nominal","scale":{"domain":["BM","TMAZ","WNZ"],"range":[52,58,76]},"legend":null}
 }},
{"data":{"name":"curves"},
 "mark":{"type":"point","filled":false,"opacity":0,"strokeWidth":1.3},
 "encoding":{
  "x":{"field":"J","type":"quantitative","scale":{"type":"log","domain":[1e-8,1],"nice":false},"axis":null},
  "y":{"field":"E","type":"quantitative","scale":{"domain":[-1.5,1.0],"nice":false,"zero":false},"axis":null},
  "color":{"field":"s","type":"nominal","scale":{"domain":["BM","TMAZ","WNZ"],"range":["#000000","#ff0000","#0000ff"]},
   "legend":{"orient":"none","legendX":58,"legendY":32,"title":null,"padding":0,
    "labelFont":"Liberation Serif","labelFontWeight":"bold","labelFontSize":19,"labelColor":"#000",
    "symbolSize":49,"symbolStrokeWidth":1.3,"symbolOpacity":1,"labelOffset":12,"rowPadding":3}},
  "shape":{"field":"s","type":"nominal","scale":{"domain":["BM","TMAZ","WNZ"],"range":["M-6,0H-0.9M0.9,0H6M-0.9,-0.9H0.9V0.9H-0.9Z","M-6,0H-1M1,0H6M-1,0A1,1,0,1,0,1,0A1,1,0,1,0,-1,0Z","M-6,0.3H-0.83M0.83,0.3H6M0,-1.1L1.15,0.85H-1.15Z"]},
   "legend":{"orient":"none","legendX":58,"legendY":32,"title":null,"padding":0,
    "labelFont":"Liberation Serif","labelFontWeight":"bold","labelFontSize":19,"labelColor":"#000",
    "symbolSize":49,"symbolStrokeWidth":1.3,"symbolOpacity":1,"labelOffset":12,"rowPadding":3}}
 }},
{"data":{"values":[{"zone":"Regime-I","x":1e-8,"x2":1,"y":-0.563,"y2":-0.203}]},
 "mark":{"type":"rect","color":"#0000c0","opacity":0.28},
 "encoding":{
  "x":{"field":"x","type":"quantitative","scale":{"type":"log","domain":[1e-8,1],"nice":false},
   "axis":{"orient":"bottom","values":[2e-8,3e-8,4e-8,5e-8,6e-8,7e-8,8e-8,9e-8,2e-7,3e-7,4e-7,5e-7,6e-7,7e-7,8e-7,9e-7,2e-6,3e-6,4e-6,5e-6,6e-6,7e-6,8e-6,9e-6,2e-5,3e-5,4e-5,5e-5,6e-5,7e-5,8e-5,9e-5,2e-4,3e-4,4e-4,5e-4,6e-4,7e-4,8e-4,9e-4,2e-3,3e-3,4e-3,5e-3,6e-3,7e-3,8e-3,9e-3,2e-2,3e-2,4e-2,5e-2,6e-2,7e-2,8e-2,9e-2,2e-1,3e-1,4e-1,5e-1,6e-1,7e-1,8e-1,9e-1],
    "labels":false,"tickSize":-4,"domain":false,"title":null,"grid":false}},
  "x2":{"field":"x2"},
  "y":{"field":"y","type":"quantitative","scale":{"domain":[-1.5,1.0],"nice":false,"zero":false},"axis":null},
  "y2":{"field":"y2"}
 }},
{"data":{"values":[{"zone":"Regime-II","x":7.1e-4,"x2":0.97,"y":-0.203,"y2":0.922}]},
 "mark":{"type":"rect","color":"#ff0000","opacity":0.3},
 "encoding":{
  "x":{"field":"x","type":"quantitative","scale":{"type":"log","domain":[1e-8,1],"nice":false},"axis":null},
  "x2":{"field":"x2"},
  "y":{"field":"y","type":"quantitative","scale":{"domain":[-1.5,1.0],"nice":false,"zero":false},"axis":null},
  "y2":{"field":"y2"}
 }},
{"data":{"values":[{"t":"Regime-II","x":6.95e-3,"y":0.49},{"t":"Regime-I","x":2.67e-7,"y":-0.338}]},
 "mark":{"type":"text","font":"Liberation Serif","fontWeight":"bold","fontSize":19,"color":"#000"},
 "encoding":{
  "x":{"field":"x","type":"quantitative","scale":{"type":"log","domain":[1e-8,1],"nice":false},"axis":null},
  "y":{"field":"y","type":"quantitative","scale":{"domain":[-1.5,1.0],"nice":false,"zero":false},"axis":null},
  "text":{"field":"t","type":"nominal"}
 }}
],
"resolve":{"axis":{"x":"independent","y":"independent"},"scale":{"color":"independent","shape":"independent"},"legend":{"color":"independent","shape":"independent"}},
"config":{
 "view":{"stroke":"#000","strokeWidth":1.5},
 "axis":{"domainColor":"#000","domainWidth":1.5,"tickColor":"#000","tickWidth":1.3,"grid":false,
  "labelFont":"Liberation Serif","labelFontWeight":"bold","labelColor":"#000",
  "titleFont":"Liberation Serif","titleFontWeight":"bold","titleColor":"#000"}
}
}
